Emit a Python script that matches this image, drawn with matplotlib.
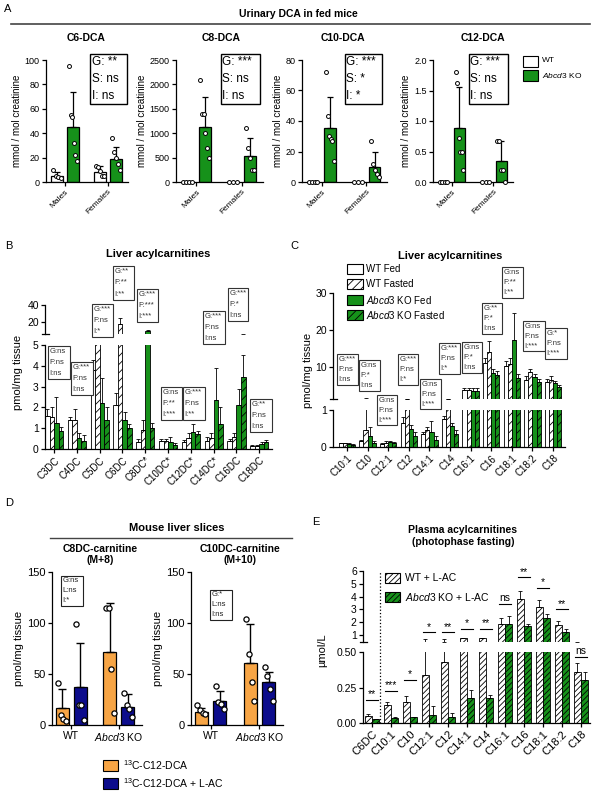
import numpy as np
import matplotlib
matplotlib.use("Agg")
import matplotlib.pyplot as plt
from matplotlib.patches import Rectangle

plt.rcParams['font.family'] = ['Liberation Sans', 'DejaVu Sans']
plt.rcParams['mathtext.fontset'] = 'custom'
plt.rcParams['mathtext.rm'] = 'Liberation Sans'
plt.rcParams['mathtext.it'] = 'Liberation Sans:italic'
plt.rcParams['hatch.linewidth'] = 0.6
plt.rcParams['axes.linewidth'] = 0.9

GREEN = '#16911a'
ORANGE = '#f7a545'
NAVY = '#0c0c8c'

# ---------------- data ----------------
# A: urinary DCA; bar order = WT males, KO males, WT females, KO females
a_titles = ['C6-DCA', 'C8-DCA', 'C10-DCA', 'C12-DCA']
a_ymax = [100, 2500, 80, 2.0]
a_yticks = [[0, 20, 40, 60, 80, 100], [0, 500, 1000, 1500, 2000, 2500],
            [0, 20, 40, 60, 80], [0.0, 0.5, 1.0, 1.5, 2.0]]
a_yfmt = ['%d', '%d', '%d', '%.1f']
a_means = [[5, 45, 8, 19], [0, 1130, 0, 540], [0, 35.5, 0, 10], [0, 0.88, 0, 0.35]]
a_sd = [[3, 29, 5, 10], [0, 610, 0, 370], [0, 20.5, 0, 10], [0, 0.67, 0, 0.33]]
a_points = [
    [[10, 5, 4, 3], [95, 55, 53, 32, 22, 17], [13, 12, 9, 5, 5], [36, 25, 20, 15, 10]],
    [[0, 0, 0, 0], [2100, 1400, 1400, 1000, 700, 500], [0, 0, 0], [1100, 700, 500, 250, 250]],
    [[0, 0, 0, 0], [72, 43, 30, 28, 27, 14], [0, 0, 0], [27, 12, 8, 5, 3]],
    [[0, 0, 0, 0], [1.8, 1.62, 0.72, 0.5, 0.5, 0.2], [0, 0, 0], [0.68, 0.68, 0.2, 0.2, 0.0]],
]
a_stats = [['G: **', 'S: ns', 'I: ns'], ['G: ***', 'S: ns', 'I: ns'],
           ['G: ***', 'S: *', 'I: *'], ['G: ***', 'S: ns', 'I: ns']]
a_sex = ['Males', 'Females']

# B: liver dicarboxylic acylcarnitines (pmol/mg tissue)
b_groups = ['C3DC', 'C4DC', 'C5DC', 'C6DC', 'C8DC*', 'C10DC*', 'C12DC*', 'C14DC*', 'C16DC', 'C18DC']
b_wt_fed = [1.6, 1.4, 3.8, 2.1, 0.35, 0.4, 0.35, 0.4, 0.4, 0.15]
b_wt_fast = [1.55, 1.4, 6.8, 17.0, 0.9, 0.4, 0.55, 0.55, 0.6, 0.15]
b_ko_fed = [1.25, 0.55, 2.2, 1.4, 9.0, 0.35, 0.8, 2.35, 2.1, 0.25]
b_ko_fast = [0.85, 0.4, 1.4, 1.0, 1.0, 0.2, 0.7, 1.2, 3.45, 0.35]
b_wt_fed_top = [1.9, 1.55, 4.3, 2.7, 0.5, 0.5, 0.45, 0.6, 0.5, 0.2]
b_wt_fast_top = [2.0, 1.9, 7.5, 24.0, 1.4, 0.5, 0.75, 0.75, 0.75, 0.2]
b_ko_fed_top = [2.5, 0.75, 3.4, 1.8, 10.0, 0.6, 1.2, 3.9, 2.9, 0.35]
b_ko_fast_top = [1.05, 0.65, 2.0, 1.2, 1.25, 0.3, 0.85, 2.0, 4.5, 0.45]
b_stats = [['ns', 'ns', 'ns'], ['***', 'ns', 'ns'], ['***', 'ns', '*'], ['**', '**', '**'],
           ['***', '***', '***'], ['ns', '**', '***'], ['***', 'ns', '**'], ['***', 'ns', 'ns'],
           ['***', '*', 'ns'], ['**', 'ns', 'ns']]

# C: liver acylcarnitines (pmol/mg tissue)
c_groups = ['C10:1', 'C10', 'C12:1', 'C12', 'C14:1', 'C14', 'C16:1', 'C16', 'C18:1', 'C18:2', 'C18']
c_wt_fed = [0.1, 0.15, 0.08, 0.65, 0.35, 0.77, 3.7, 11.0, 10.3, 6.4, 5.9]
c_wt_fast = [0.1, 0.45, 0.12, 1.3, 0.45, 1.35, 3.7, 14.0, 10.8, 8.6, 6.4]
c_ko_fed = [0.08, 0.3, 0.13, 0.5, 0.4, 0.57, 3.6, 8.4, 17.3, 7.3, 5.6]
c_ko_fast = [0.05, 0.1, 0.1, 0.3, 0.2, 0.35, 3.6, 7.8, 6.9, 5.9, 4.5]
c_wt_fed_top = [0.12, 0.2, 0.1, 0.8, 0.4, 0.85, 4.2, 12.5, 11.5, 7.5, 6.6]
c_wt_fast_top = [0.12, 1.5, 0.15, 1.35, 0.55, 1.4, 4.3, 17.0, 12.5, 9.5, 7.5]
c_ko_fed_top = [0.1, 0.55, 0.16, 0.6, 0.7, 0.65, 4.3, 9.5, 24.5, 8.2, 6.3]
c_ko_fast_top = [0.07, 0.15, 0.13, 0.4, 0.3, 0.45, 4.2, 9.0, 8.0, 6.8, 5.2]
c_stats = [['***', 'ns', 'ns'], ['ns', '*', 'ns'], ['ns', 'ns', '***'], ['***', 'ns', '*'],
           ['ns', 'ns', '***'], ['***', 'ns', '*'], ['ns', '*', 'ns'], ['**', '*', 'ns'],
           ['ns', '**', '**'], ['ns', 'ns', '***'], ['*', 'ns', '***']]
bc_legend = ['WT Fed', 'WT Fasted', r'$\it{Abcd3}$ KO Fed', r'$\it{Abcd3}$ KO Fasted']

# D: mouse liver slices; order = WT C12-DCA, WT +L-AC, KO C12-DCA, KO +L-AC
d_titles = [['C8DC-carnitine', '(M+8)'], ['C10DC-carnitine', '(M+10)']]
d_means = [[17, 37, 72, 18], [12.4, 24, 61, 42]]
d_tops = [[35, 80, 120, 30], [17, 33, 99, 52]]
d_points = [
    [[41, 10, 5.5, 4], [99, 20, 20, 5], [115, 115, 55, 12], [31, 19.5, 16, 7.5]],
    [[19.5, 14.6, 12, 11], [38, 23, 21, 16], [104, 70, 42, 24], [57, 48, 35, 24]],
]
d_stats = [['G:ns', 'L:ns', 'I:*'], ['G:*', 'L:ns', 'I:ns']]
d_genotypes = ['WT', r'$\it{Abcd3}$ KO']
d_legend = [r'$^{13}$C-C12-DCA', r'$^{13}$C-C12-DCA + L-AC']

# E: plasma acylcarnitines (umol/L)
e_groups = ['C6DC', 'C10:1', 'C10', 'C12:1', 'C12', 'C14:1', 'C14', 'C16:1', 'C16', 'C18:1', 'C18:2', 'C18']
e_wt = [0.05, 0.125, 0.145, 0.34, 0.43, 0.75, 0.75, 1.85, 3.8, 3.2, 1.8, 0.36]
e_ko = [0.025, 0.035, 0.04, 0.055, 0.045, 0.175, 0.175, 1.85, 1.7, 2.35, 1.25, 0.3]
e_wt_top = [0.065, 0.15, 0.19, 0.66, 0.66, 0.8, 0.78, 2.3, 4.4, 3.7, 2.1, 0.42]
e_ko_top = [0.03, 0.045, 0.045, 0.12, 0.07, 0.23, 0.2, 2.5, 1.85, 2.6, 1.5, 0.36]
e_sig = ['**', '***', '*', '*', '**', '*', '**', 'ns', '**', '*', '**', 'ns']
e_sig_y = [0.165, 0.225, 0.305, 1.2, 1.2, 1.45, 1.5, 3.45, 5.5, 4.65, 3.0, 0.465]
e_legend = ['WT + L-AC', r'$\it{Abcd3}$ KO + L-AC']

# ---------------- helpers ----------------
W, H = 595, 795
fig = plt.figure(figsize=(W / 100, H / 100), dpi=100)


def px_axes(x0, y0, x1, y1):
    return fig.add_axes([x0 / W, 1 - y1 / H, (x1 - x0) / W, (y1 - y0) / H])


def ftext(x, y, s, **kw):
    return fig.text(x / W, 1 - y / H, s, **kw)


def style(ax, fs=7):
    ax.spines['top'].set_visible(False)
    ax.spines['right'].set_visible(False)
    ax.tick_params(direction='out', length=3, width=0.9, labelsize=fs, pad=1.5)
    ax.patch.set_alpha(0)


def stat_box(x0, y0, x1, y1, lines, fs, color='k', lw=0.9):
    fig.add_artist(Rectangle((x0 / W, 1 - y1 / H), (x1 - x0) / W, (y1 - y0) / H,
                             transform=fig.transFigure, facecolor='white',
                             edgecolor=color, lw=lw, zorder=5))
    step = (y1 - y0) / len(lines)
    for i, t in enumerate(lines):
        ftext(x0 + 1.5, y0 + step * (i + 0.5), t, fontsize=fs, color=color,
              va='center', ha='left', zorder=6)


def leg_patch(x0, yc, w, h, fc, hatch=None):
    fig.add_artist(Rectangle((x0 / W, 1 - (yc + h / 2) / H), w / W, h / H,
                             transform=fig.transFigure, facecolor=fc,
                             edgecolor='k', lw=0.8, hatch=hatch))


def hline(x0, x1, y, color='#444444', lw=1.0):
    fig.add_artist(plt.Line2D([x0 / W, x1 / W], [1 - y / H, 1 - y / H],
                              transform=fig.transFigure, color=color, lw=lw))


def cap(ax, yfrac, ax_w):
    d = 3.5 / ax_w
    ax.plot([-d, d], [yfrac, yfrac], transform=ax.transAxes, color='k', lw=0.9, clip_on=False)


def grouped(axes, xpos, series, offsets, width, lw=0.6):
    for ax in axes:
        for k, (vals, tops, fc, hatch) in enumerate(series):
            xs = xpos + offsets[k]
            vals = np.array(vals)
            ax.bar(xs, vals, width, color=fc, edgecolor='k', lw=lw, hatch=hatch, zorder=2)
            ax.errorbar(xs, vals, yerr=[np.zeros(len(vals)), np.array(tops) - vals],
                        fmt='none', ecolor='k', elinewidth=0.6, capsize=1.2,
                        capthick=0.6, zorder=3)


# ---------------- panel A ----------------
ftext(4, 9, 'A', fontsize=8, va='center')
ftext(298, 14, 'Urinary DCA in fed mice', fontsize=7.5, fontweight='bold', ha='center', va='center')
hline(11, 590, 24, lw=1.2)
a_rects = [(46, 128), (176, 263), (302, 387), (433, 513)]
a_title_x = [86, 221, 343, 483]
a_boxes = [(90, 127), (221, 260), (345, 382), (469, 508)]
a_x = np.array([0.73, 1.8, 3.6, 4.67])
a_cols = ['white', GREEN, 'white', GREEN]
for i in range(4):
    x0, x1 = a_rects[i]
    ax = px_axes(x0, 60, x1, 182)
    style(ax, 6.5)
    ax.bar(a_x, a_means[i], width=0.75, color=a_cols, edgecolor='k', lw=0.9, zorder=2)
    ax.errorbar(a_x, a_means[i], yerr=[np.zeros(4), a_sd[i]], fmt='none', ecolor='k',
                elinewidth=0.9, capsize=2.5, capthick=0.9, zorder=3)
    for j in range(4):
        pts = a_points[i][j]
        offs = np.linspace(-0.26, 0.26, len(pts))
        ax.scatter(a_x[j] + offs, pts, s=8, facecolor='white', edgecolor='k',
                   linewidth=0.7, zorder=4, clip_on=False)
    ax.set_xlim(0, 5.47)
    ax.set_ylim(0, a_ymax[i])
    ax.set_yticks(a_yticks[i])
    ax.set_yticklabels([a_yfmt[i] % t for t in a_yticks[i]])
    ax.set_xticks([1.27, 4.13])
    ax.set_xticklabels(a_sex, rotation=45, ha='right', rotation_mode='anchor', fontsize=6)
    ax.set_ylabel('mmol / mol creatinine', fontsize=7, labelpad=2)
    ftext(a_title_x[i], 38, a_titles[i], fontsize=7.5, fontweight='bold', ha='center', va='center')
    bx0, bx1 = a_boxes[i]
    stat_box(bx0, 54, bx1, 104, a_stats[i], 8.5, lw=1.0)
leg_patch(523, 61, 15, 11, 'white')
leg_patch(523, 75, 15, 11, GREEN)
ftext(542, 61, 'WT', fontsize=6, va='center')
ftext(542, 75, r'$\it{Abcd3}$ KO', fontsize=6, va='center')

# ---------------- panel B ----------------
ftext(5, 246, 'B', fontsize=8, va='center')
ftext(158, 254, 'Liver acylcarnitines', fontsize=8, fontweight='bold', ha='center', va='center')
bu = px_axes(45, 305, 272, 334)
bl = px_axes(45, 345, 272, 449)
for ax in (bu, bl):
    style(ax, 7.5)
bu.spines['bottom'].set_visible(False)
bu.tick_params(axis='x', bottom=False, labelbottom=False)
bx = np.arange(len(b_groups))
b_series = [(b_wt_fed, b_wt_fed_top, 'white', None), (b_wt_fast, b_wt_fast_top, 'white', '////'),
            (b_ko_fed, b_ko_fed_top, GREEN, None), (b_ko_fast, b_ko_fast_top, GREEN, '////')]
grouped([bu, bl], bx, b_series, [-0.3, -0.1, 0.1, 0.3], 0.2)
for ax in (bu, bl):
    ax.set_xlim(-0.4, 9.56)
bu.set_ylim(5, 40)
bu.set_yticks([20, 40])
bl.set_ylim(0, 5)
bl.set_yticks([0, 1, 2, 3, 4, 5])
bl.set_xticks(bx)
bl.set_xticklabels(b_groups, rotation=45, ha='right', rotation_mode='anchor', fontsize=7)
cap(bu, 0, 227)
ftext(18, 372, 'pmol/mg tissue', fontsize=8, rotation=90, ha='center', va='center')
b_boxes = [(48, 346, 70, 379), (71, 362, 93, 395), (92, 304, 113, 337), (113, 266, 134, 300),
           (137, 289, 158, 322), (161, 387, 182, 420), (183, 387, 205, 420), (203, 311, 225, 344),
           (228, 288, 248, 321), (250, 399, 272, 432)]
for (x0, y0, x1, y1), st in zip(b_boxes, b_stats):
    stat_box(x0, y0, x1, y1, ['G:' + st[0], 'F:' + st[1], 'I:' + st[2]], 5.5, color='#333333', lw=0.8)

# ---------------- panel C ----------------
ftext(290, 246, 'C', fontsize=8, va='center')
ftext(450, 256, 'Liver acylcarnitines', fontsize=8, fontweight='bold', ha='center', va='center')
cu = px_axes(333, 293, 565, 399)
cl = px_axes(333, 410, 565, 447)
for ax in (cu, cl):
    style(ax, 7.5)
cu.spines['bottom'].set_visible(False)
cu.tick_params(axis='x', bottom=False, labelbottom=False)
cx = np.arange(len(c_groups))
c_series = [(c_wt_fed, c_wt_fed_top, 'white', None), (c_wt_fast, c_wt_fast_top, 'white', '////'),
            (c_ko_fed, c_ko_fed_top, GREEN, None), (c_ko_fast, c_ko_fast_top, GREEN, '////')]
grouped([cu, cl], cx, c_series, [-0.3, -0.1, 0.1, 0.3], 0.2)
for ax in (cu, cl):
    ax.set_xlim(-0.68, 10.58)
cu.set_ylim(1.3, 30)
cu.set_yticks([10, 20, 30])
cl.set_ylim(0, 1)
cl.set_yticks([0, 1])
cl.set_xticks(cx)
cl.set_xticklabels(c_groups, rotation=45, ha='right', rotation_mode='anchor', fontsize=7)
cap(cu, 0, 232)
ftext(308, 370, 'pmol/mg tissue', fontsize=8, rotation=90, ha='center', va='center')
c_boxes = [(337, 354, 358, 385), (359, 360, 380, 391), (377, 395, 397, 425), (398, 354, 418, 385),
           (420, 379, 441, 409), (439, 343, 460, 374), (462, 342, 482, 373), (482, 303, 502, 334),
           (502, 267, 523, 298), (523, 321, 545, 351), (545, 328, 567, 359)]
for (x0, y0, x1, y1), st in zip(c_boxes, c_stats):
    stat_box(x0, y0, x1, y1, ['G:' + st[0], 'F:' + st[1], 'I:' + st[2]], 5.5, color='#333333', lw=0.8)
for k, (lab, fc, hatch) in enumerate(zip(bc_legend, ['white', 'white', GREEN, GREEN],
                                          [None, '////', None, '////'])):
    yc = 269 + 15.3 * k
    leg_patch(347, yc, 16, 10, fc, hatch)
    ftext(366, yc, lab, fontsize=7, va='center')

# ---------------- panel D ----------------
ftext(5, 503, 'D', fontsize=8, va='center')
ftext(177, 528, 'Mouse liver slices', fontsize=8, fontweight='bold', ha='center', va='center')
hline(50, 292, 538)
d_rects = [(52, 142), (191, 283)]
d_boxes = [(61, 576, 83, 606), (210, 590, 232, 620)]
d_x = np.array([0.56, 1.56, 3.22, 4.22])
d_cols = [ORANGE, NAVY, ORANGE, NAVY]
for i in range(2):
    x0, x1 = d_rects[i]
    ax = px_axes(x0, 572, x1, 725)
    style(ax, 8)
    ax.bar(d_x, d_means[i], width=0.72, color=d_cols, edgecolor='k', lw=0.9, zorder=2)
    ax.errorbar(d_x, d_means[i], yerr=[np.zeros(4), np.array(d_tops[i]) - np.array(d_means[i])],
                fmt='none', ecolor='k', elinewidth=1.0, capsize=3, capthick=1.0, zorder=3)
    for j in range(4):
        pts = d_points[i][j]
        offs = np.linspace(-0.22, 0.22, len(pts))
        ax.scatter(d_x[j] + offs, pts, s=14, facecolor='white', edgecolor='k',
                   linewidth=0.9, zorder=4)
    ax.set_xlim(0, 5)
    ax.set_ylim(0, 150)
    ax.set_yticks([0, 50, 100, 150])
    ax.set_xticks([1.06, 3.72])
    ax.set_xticklabels(d_genotypes, fontsize=7.5)
    ax.set_ylabel('pmol/mg tissue', fontsize=8, labelpad=2)
    for k, line in enumerate(d_titles[i]):
        ftext((x0 + x1) / 2 + 3, 549 + 11 * k, line, fontsize=7.5, fontweight='bold',
              ha='center', va='center')
    bx0, by0, bx1, by1 = d_boxes[i]
    stat_box(bx0, by0, bx1, by1, d_stats[i], 5.5, color='#222222', lw=0.8)
for k, (lab, fc) in enumerate(zip(d_legend, [ORANGE, NAVY])):
    yc = 765 + 18 * k
    leg_patch(103, yc, 15, 11, fc)
    ftext(123, yc, lab, fontsize=7.5, va='center')

# ---------------- panel E ----------------
ftext(312, 522, 'E', fontsize=8, va='center')
ftext(463, 530, 'Plasma acylcarnitines', fontsize=7.5, fontweight='bold', ha='center', va='center')
ftext(463, 542, '(photophase fasting)', fontsize=7.5, fontweight='bold', ha='center', va='center')
eu = px_axes(363, 571, 590, 642)
el = px_axes(363, 652, 590, 723)
for ax in (eu, el):
    style(ax, 7.5)
eu.spines['bottom'].set_visible(False)
eu.tick_params(axis='x', bottom=False, labelbottom=False)
ex = np.arange(len(e_groups))
e_series = [(e_wt, e_wt_top, 'white', '//////'), (e_ko, e_ko_top, GREEN, '//////')]
grouped([eu, el], ex, e_series, [-0.19, 0.19], 0.37)
for ax in (eu, el):
    ax.set_xlim(-0.47, 11.47)
eu.set_ylim(0.45, 6)
eu.set_yticks([1, 2, 3, 4, 5, 6])
el.set_ylim(0, 0.5)
el.set_yticks([0, 0.25, 0.5])
el.set_yticklabels(['0.00', '0.25', '0.50'])
el.set_xticks(ex)
el.set_xticklabels(e_groups, rotation=45, ha='right', rotation_mode='anchor', fontsize=8)
cap(eu, 0, 227)
el.axvline(0.42, ymin=0, ymax=(723 - 571) / (723 - 652), color='k', ls=':', lw=0.9, clip_on=False)
for g, (s, y) in enumerate(zip(e_sig, e_sig_y)):
    ax = eu if y > 0.5 else el
    ax.plot([g - 0.33, g + 0.33], [y, y], color='k', lw=0.8, clip_on=False)
    ax.annotate(s, (g, y), xytext=(0, 0.5), textcoords='offset points', ha='center',
                va='bottom', fontsize=7.5, annotation_clip=False)
ftext(322, 650, 'µmol/L', fontsize=8, rotation=90, ha='center', va='center')
for k, (lab, fc) in enumerate(zip(e_legend, ['white', GREEN])):
    yc = 578 + 19 * k
    leg_patch(385, yc, 15, 10, fc, '//////')
    ftext(405, yc, lab, fontsize=7.5, va='center')

fig.savefig('out.png', dpi=100)
